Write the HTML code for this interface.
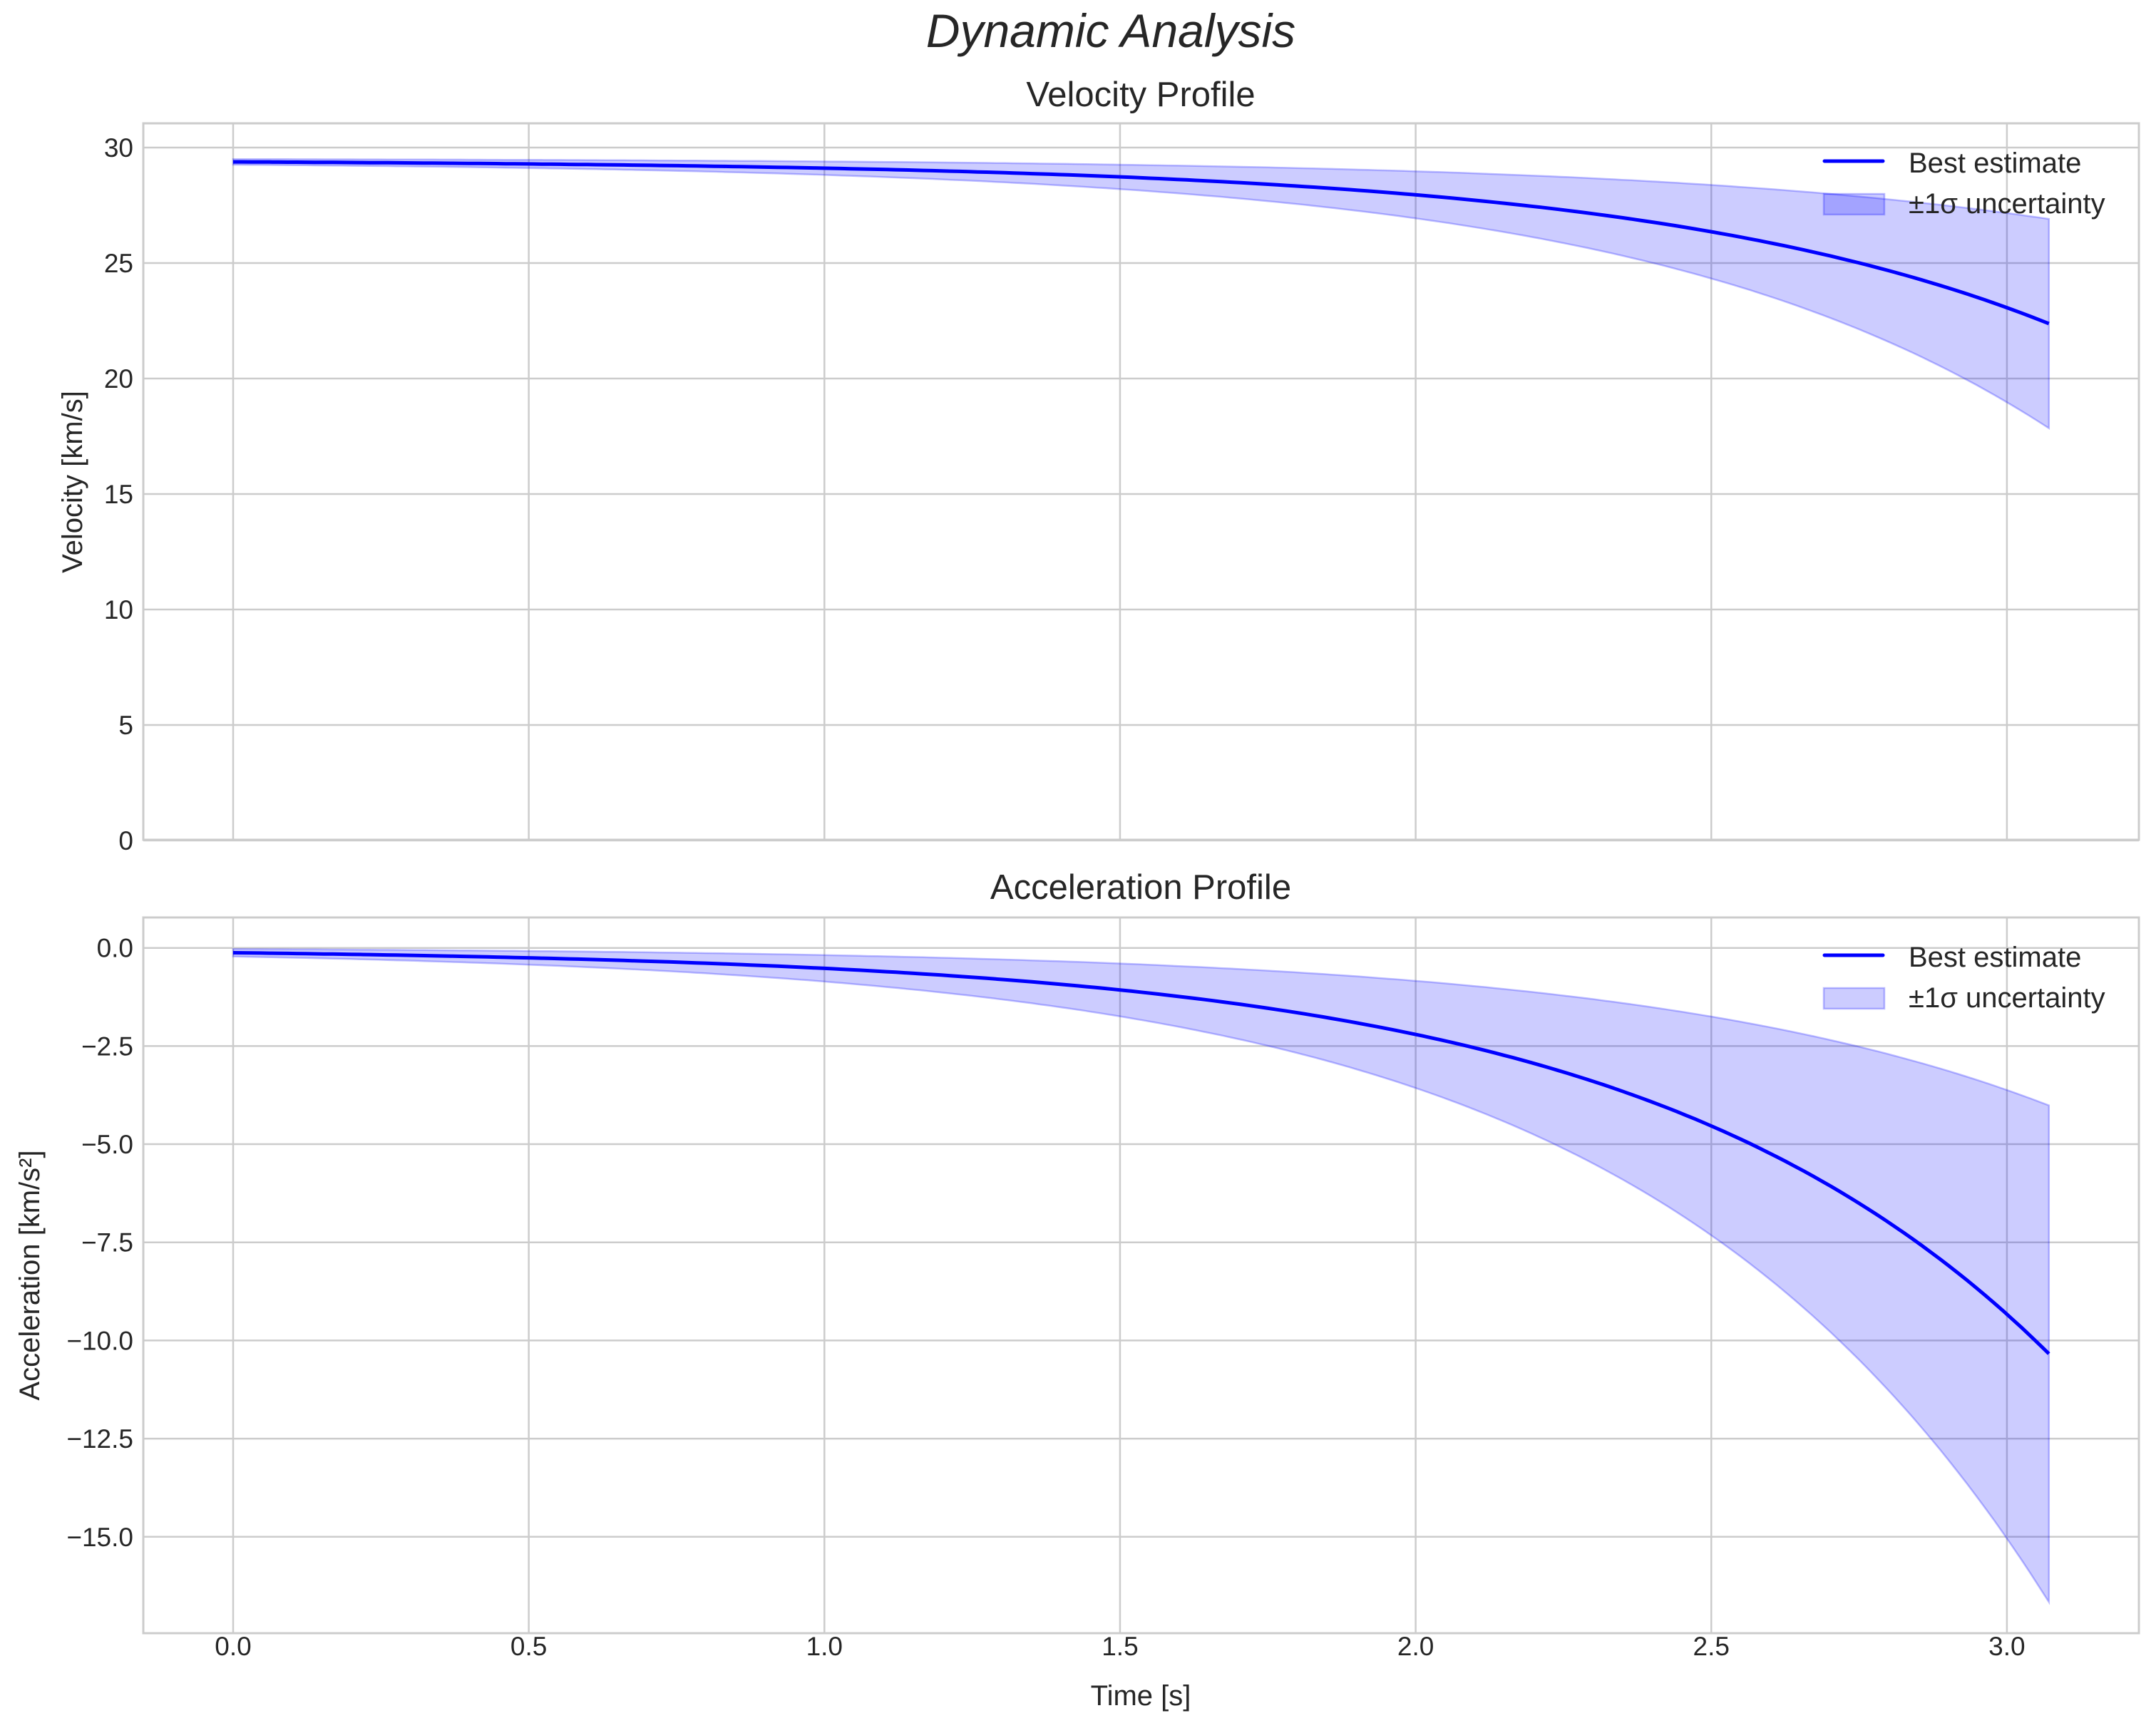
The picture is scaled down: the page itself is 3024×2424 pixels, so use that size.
<!DOCTYPE html>
<html><head><meta charset="utf-8"><style>html,body{margin:0;padding:0;background:#fff}svg{display:block}text{font-family:"Liberation Sans",sans-serif;fill:#262626}</style></head>
<body>
<svg id="s" width="3024" height="2424" viewBox="0 0 3024 2424" xmlns="http://www.w3.org/2000/svg">
<rect width="3024" height="2424" fill="#fff"/>
<g id="grid" stroke="#cccccc" stroke-width="2.5" fill="none"></g>
<g id="data"></g>
<rect x="201" y="173" width="2799" height="1005" fill="none" stroke="#cccccc" stroke-width="3"/>
<rect x="201" y="1287" width="2799" height="1004" fill="none" stroke="#cccccc" stroke-width="3"/>
<g id="labels" font-size="37"></g>
<text x="1558" y="66" font-size="66" font-style="italic" text-anchor="middle">Dynamic Analysis</text>
<text x="1600" y="149" font-size="49" text-anchor="middle">Velocity Profile</text>
<text x="1600" y="1261" font-size="49" text-anchor="middle">Acceleration Profile</text>
<text transform="translate(115,676) rotate(-90)" font-size="40" text-anchor="middle">Velocity [km/s]</text>
<text transform="translate(55,1789) rotate(-90)" font-size="40" text-anchor="middle">Acceleration [km/s²]</text>
<text x="1600" y="2392" font-size="40" text-anchor="middle">Time [s]</text>
<g font-size="40">
<line x1="2559" y1="226" x2="2641" y2="226" stroke="#0000ff" stroke-width="5" stroke-linecap="round"/>
<rect x="2558" y="272" width="85" height="29" fill="rgba(0,0,255,0.2)" stroke="rgba(0,0,255,0.25)" stroke-width="2.5"/>
<text x="2677" y="242">Best estimate</text>
<text x="2677" y="299">±1σ uncertainty</text>
<line x1="2559" y1="1340" x2="2641" y2="1340" stroke="#0000ff" stroke-width="5" stroke-linecap="round"/>
<rect x="2558" y="1386" width="85" height="29" fill="rgba(0,0,255,0.2)" stroke="rgba(0,0,255,0.25)" stroke-width="2.5"/>
<text x="2677" y="1356">Best estimate</text>
<text x="2677" y="1413">±1σ uncertainty</text>
</g>
</svg>
<script>
const NS="http://www.w3.org/2000/svg";
const X=t=>327+829.3*t;
const Yv=v=>1179-32.4*v;
const Ya=a=>1329.7-55.07*a;
function el(p,tag,attrs,txt){const e=document.createElementNS(NS,tag);for(const k in attrs)e.setAttribute(k,attrs[k]);if(txt!==undefined)e.textContent=txt;p.appendChild(e);return e;}
const g=document.getElementById('grid'),L=document.getElementById('labels'),D=document.getElementById('data');
for(let i=0;i<=6;i++){const t=i*0.5,x=X(t);
 el(g,'line',{x1:x,y1:173,x2:x,y2:1178});el(g,'line',{x1:x,y1:1287,x2:x,y2:2291});
 el(L,'text',{x:x,y:2322,'text-anchor':'middle'},t.toFixed(1));}
for(let v=0;v<=30;v+=5){const y=Yv(v);el(g,'line',{x1:201,y1:y,x2:3000,y2:y});el(L,'text',{x:187,y:y+13,'text-anchor':'end'},String(v));}
for(let i=0;i<=6;i++){const a=-2.5*i,y=Ya(a);el(g,'line',{x1:201,y1:y,x2:3000,y2:y});el(L,'text',{x:187,y:y+13,'text-anchor':'end'},(i==0?'0.0':'\u2212'+(2.5*i).toFixed(1)));}
const k=1.443,N=200,T=3.071;
let vc=[],vu=[],vl=[],ac=[],au=[],al=[];
for(let i=0;i<=N;i++){const t=T*i/N,e=Math.exp(k*t);
 const v=29.38-0.0843*(e-1),h=0.63*(29.38-v)+0.12;
 const a=-0.123*e,ha=0.61*(-a)+0.02;
 vc.push([X(t),Yv(v)]);vu.push([X(t),Yv(v+h)]);vl.push([X(t),Yv(v-h)]);
 ac.push([X(t),Ya(a)]);au.push([X(t),Ya(a+ha)]);al.push([X(t),Ya(a-ha)]);}
const P=a=>a.map((p,i)=>(i?'L':'M')+p[0].toFixed(1)+','+p[1].toFixed(1)).join('');
function band(u,l){return P(u)+l.slice().reverse().map(p=>'L'+p[0].toFixed(1)+','+p[1].toFixed(1)).join('')+'Z';}
el(D,'path',{d:band(vu,vl),fill:'rgba(0,0,255,0.2)',stroke:'rgba(0,0,255,0.25)','stroke-width':2.5});
el(D,'path',{d:band(au,al),fill:'rgba(0,0,255,0.2)',stroke:'rgba(0,0,255,0.25)','stroke-width':2.5});
el(D,'path',{d:P(vc),fill:'none',stroke:'#0000ff','stroke-width':5});
el(D,'path',{d:P(ac),fill:'none',stroke:'#0000ff','stroke-width':5});
</script>
</body></html>
